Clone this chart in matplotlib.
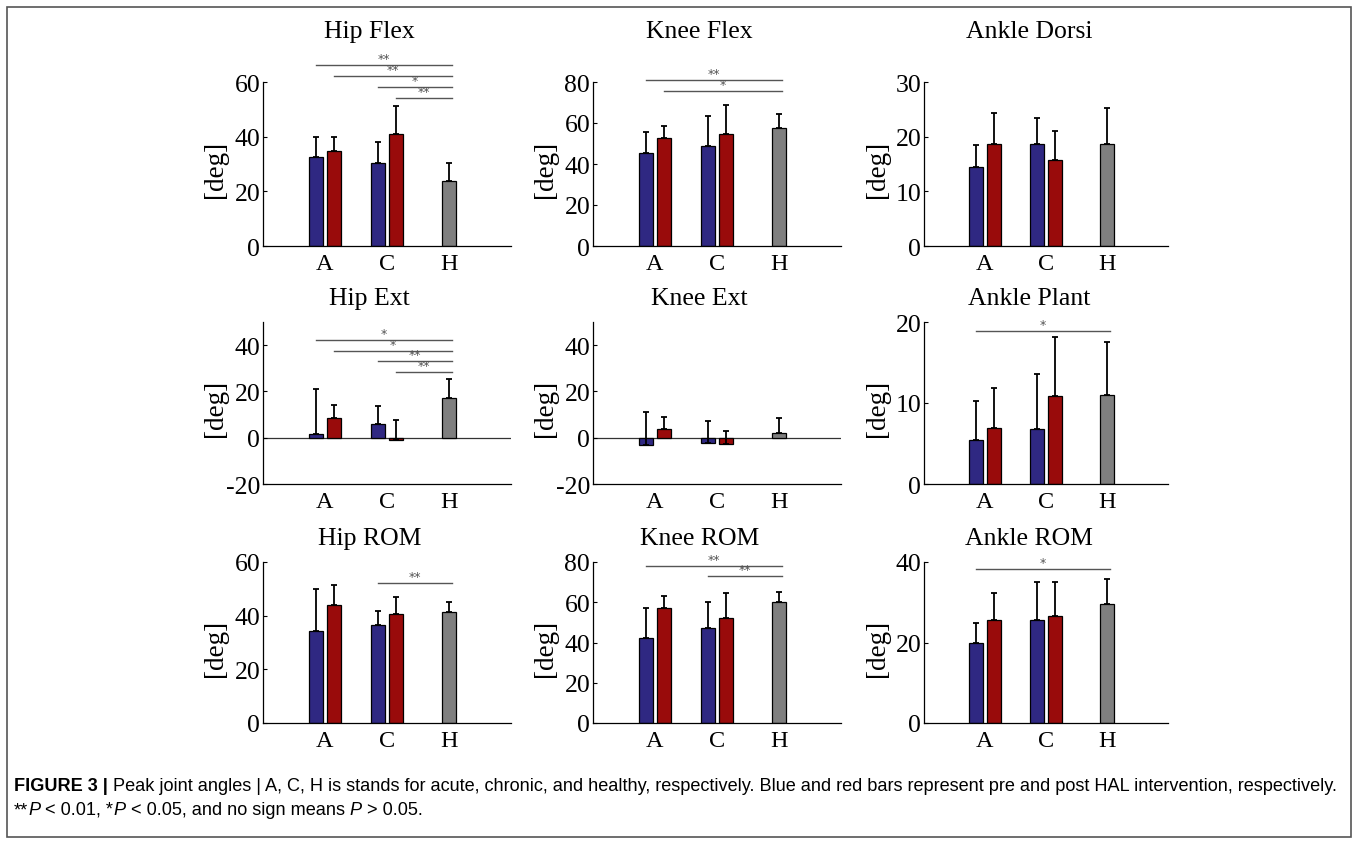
import matplotlib
matplotlib.use("Agg")
import matplotlib.pyplot as plt
from matplotlib.patches import Rectangle

# ---------------- data ----------------
groups = ["A", "C", "H"]
titles = ["Hip Flex", "Knee Flex", "Ankle Dorsi",
          "Hip Ext", "Knee Ext", "Ankle Plant",
          "Hip ROM", "Knee ROM", "Ankle ROM"]

pre_mean = [[32.7, 30.4], [45.4, 49.0], [14.5, 18.7],
            [1.4, 5.8], [-3.2, -2.3], [5.4, 6.8],
            [34.4, 36.4], [42.4, 47.2], [19.8, 25.5]]
pre_sd = [[7.1, 7.8], [10.1, 14.2], [4.0, 4.8],
          [19.6, 8.1], [14.2, 9.5], [4.8, 6.8],
          [15.4, 5.2], [14.5, 12.7], [5.1, 9.6]]
post_mean = [[34.9, 41.0], [52.9, 54.4], [18.6, 15.8],
             [8.7, -0.9], [3.8, -2.6], [6.9, 10.9],
             [43.9, 40.6], [57.1, 52.3], [25.5, 26.7]]
post_sd = [[5.0, 10.4], [5.7, 14.2], [5.8, 5.3],
           [5.5, 8.6], [5.2, 5.3], [5.0, 7.3],
           [7.4, 6.4], [5.9, 12.2], [6.8, 8.4]]
healthy_mean = [23.9, 57.8, 18.7, 17.2, 2.0, 11.0, 41.4, 60.2, 29.6]
healthy_sd = [6.5, 6.4, 6.5, 8.2, 6.7, 6.5, 3.7, 5.0, 6.1]

ylims = [(0, 60), (0, 80), (0, 30), (-20, 50), (-20, 50), (0, 20),
         (0, 60), (0, 80), (0, 40)]
yticks = [[0, 20, 40, 60], [0, 20, 40, 60, 80], [0, 10, 20, 30],
          [-20, 0, 20, 40], [-20, 0, 20, 40], [0, 10, 20],
          [0, 20, 40, 60], [0, 20, 40, 60, 80], [0, 20, 40]]

# significance: (start group index, 0=pre / 1=post, y level, label)
sig = [
    [(0, 0, 66.2, "**"), (0, 1, 62.2, "**"), (1, 0, 58.2, "*"), (1, 1, 54.2, "**")],
    [(0, 0, 81.0, "**"), (0, 1, 75.6, "*")],
    [],
    [(0, 0, 42.2, "*"), (0, 1, 37.4, "*"), (1, 0, 33.0, "**"), (1, 1, 28.3, "**")],
    [],
    [(0, 0, 18.9, "*")],
    [(1, 0, 52.2, "**")],
    [(0, 0, 78.0, "**"), (1, 0, 73.0, "**")],
    [(0, 0, 38.3, "*")],
]

caption_bold = "FIGURE 3 |"
caption_rest = (" Peak joint angles | A, C, H is stands for acute, chronic, and healthy, "
                "respectively. Blue and red bars represent pre and post HAL intervention, respectively.")

# ---------------- style ----------------
W, H = 1358, 845
fig = plt.figure(figsize=(W / 100, H / 100), dpi=100)
serif = ["Liberation Serif", "DejaVu Serif"]
BLUE = "#2f2882"
RED = "#990b0b"
GRAY = "#7f7f7f"

col_left = [263, 593, 924]
col_width = [248, 248, 244]
row_top = [83, 323, 563]
row_bot = [247, 485, 724]
title_y = [1.262, 1.099, 1.099]

off = 0.145
bw = 0.23
xg = [1, 2, 3]

for i in range(9):
    r, c = divmod(i, 3)
    ax = fig.add_axes([col_left[c] / W, 1 - row_bot[r] / H,
                       col_width[c] / W, (row_bot[r] - row_top[r]) / H])
    ylo, yhi = ylims[i]
    ax.set_xlim(0, 4)
    ax.set_ylim(ylo, yhi)
    if ylo < 0:
        ax.axhline(0, color="#333333", lw=0.9, zorder=1)
    xp = [xg[0] - off, xg[1] - off]
    xq = [xg[0] + off, xg[1] + off]
    ax.bar(xp, pre_mean[i], width=bw, color=BLUE, edgecolor="black", lw=0.9, zorder=2)
    ax.bar(xq, post_mean[i], width=bw, color=RED, edgecolor="black", lw=0.9, zorder=2)
    ax.bar([xg[2]], [healthy_mean[i]], width=bw, color=GRAY, edgecolor="black", lw=0.9, zorder=2)
    ekw = dict(fmt="none", ecolor="black", elinewidth=1.3, capsize=2.2, capthick=1.3, zorder=3)
    ax.errorbar(xp, pre_mean[i], yerr=[[0, 0], pre_sd[i]], **ekw)
    ax.errorbar(xq, post_mean[i], yerr=[[0, 0], post_sd[i]], **ekw)
    ax.errorbar([xg[2]], [healthy_mean[i]], yerr=[[0], [healthy_sd[i]]], **ekw)

    for (g, s, yv, lab) in sig[i]:
        x0 = xg[g] + (off if s else -off)
        x1 = xg[2] + 0.05
        ax.plot([x0, x1], [yv, yv], color="#555555", lw=1.0, clip_on=False, zorder=4)
        ax.text((x0 + x1) / 2, yv, lab, ha="center", va="bottom", fontsize=9,
                color="#555555", family="DejaVu Sans", clip_on=False)

    ax.set_xticks(xg)
    ax.set_xticklabels(groups, family=serif, fontsize=17.5)
    ax.set_yticks(yticks[i])
    ax.set_yticklabels([str(t) for t in yticks[i]], family=serif, fontsize=18.5)
    ax.tick_params(axis="y", direction="in", length=3, width=0.8, pad=2)
    ax.tick_params(axis="x", direction="in", length=0, pad=5)
    for sp in ["top", "right"]:
        ax.spines[sp].set_visible(False)
    for sp in ["left", "bottom"]:
        ax.spines[sp].set_linewidth(0.9)
    ax.set_ylabel("[deg]", family=serif, fontsize=19.5)
    ax.yaxis.set_label_coords(-0.14, 0.47)
    ax.set_title(titles[i], family=serif, fontsize=18.5, x=0.43, y=title_y[r], va="center")

# figure border
fig.patches.append(Rectangle((7 / W, 1 - 838 / H), (1351 - 7) / W, (838 - 8) / H,
                             transform=fig.transFigure, fill=False,
                             edgecolor="#555555", lw=1.2))

# caption with mixed styles
sans = ["Liberation Sans", "DejaVu Sans"]
fig.canvas.draw()
renderer = fig.canvas.get_renderer()


def put_segments(segs, x_px, y_px, size):
    x = x_px
    for txt, weight, style in segs:
        t = fig.text(x / W, 1 - y_px / H, txt, family=sans, fontsize=size,
                     weight=weight, style=style, va="baseline", ha="left")
        bb = t.get_window_extent(renderer=renderer)
        x += bb.width


cap_size = 13.1
put_segments([(caption_bold, "bold", "normal"), (caption_rest, "normal", "normal")],
             14, 791, cap_size)
put_segments([("**", "normal", "normal"), ("P", "normal", "italic"),
              (" < 0.01, *", "normal", "normal"), ("P", "normal", "italic"),
              (" < 0.05, and no sign means ", "normal", "normal"),
              ("P", "normal", "italic"), (" > 0.05.", "normal", "normal")],
             14, 815, cap_size)

fig.savefig("out.png", dpi=100)
